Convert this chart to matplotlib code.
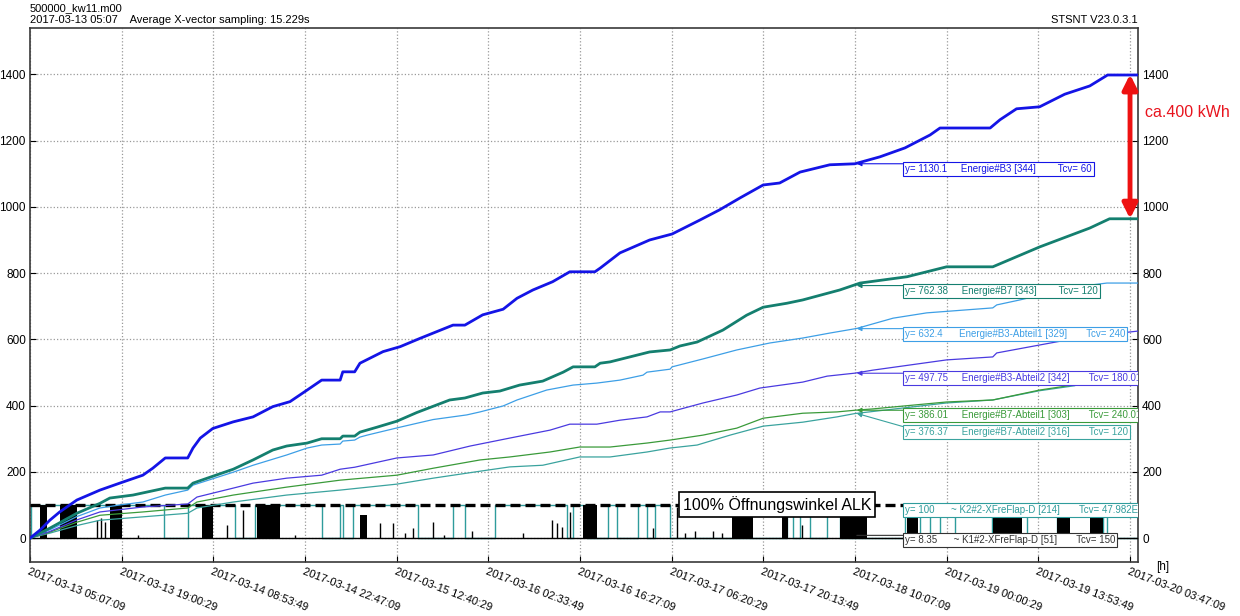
import numpy as np
import matplotlib
matplotlib.use('Agg')
import matplotlib.pyplot as plt

plt.rcParams['font.family'] = ['Liberation Sans', 'DejaVu Sans']

# time axis in hours since 2017-03-13 05:07:09, one tick every 50000 s
tick_h = [i * 50000 / 3600.0 for i in range(13)]
tick_labels = ['2017-03-13 05:07:09', '2017-03-13 19:00:29', '2017-03-14 08:53:49',
               '2017-03-14 22:47:09', '2017-03-15 12:40:29', '2017-03-16 02:33:49',
               '2017-03-16 16:27:09', '2017-03-17 06:20:29', '2017-03-17 20:13:49',
               '2017-03-18 10:07:09', '2017-03-19 00:00:29', '2017-03-19 13:53:49',
               '2017-03-20 03:47:09']

# Energie#B3
b3_t = [0, 1.5, 3.0, 4.5, 7.1, 10.6, 13.6, 17.1, 18.6, 20.5, 23.9, 24.7, 25.8, 27.7, 30.8,
        33.8, 36.8, 39.4, 42.0, 44.2, 47.0, 47.4, 49.2, 50.0, 53.5, 56.1, 59.1, 64.1, 65.9,
        68.6, 71.7, 73.8, 76.2, 79.2, 81.8, 85.6, 86.4, 89.4, 93.9, 97.3, 101.5, 104.5,
        107.6, 111.1, 113.6, 116.7, 121.2, 125.0, 128.8, 132.6, 136.4, 137.9, 145.5, 147.0,
        149.5, 153.0, 156.8, 160.6, 163.3, 167.9]
b3_v = [0, 24, 54, 79, 115, 145, 166, 190, 211, 242, 242, 272, 302, 331, 351,
        366, 397, 412, 447, 477, 477, 502, 502, 528, 563, 578, 603, 643, 643,
        674, 691, 724, 749, 774, 804, 804, 815, 861, 900, 918, 960, 991,
        1027, 1066, 1072, 1105, 1127, 1130, 1151, 1178, 1217, 1238, 1238, 1263,
        1296, 1302, 1340, 1365, 1398, 1398]

# Energie#B7
b7_t = [0, 3.0, 7.1, 10.6, 12.1, 15.6, 20.5, 23.9, 24.7, 27.3, 30.8, 33.8, 36.8, 38.9,
        42.0, 44.2, 47.0, 47.4, 49.2, 50.0, 52.6, 55.6, 58.6, 61.1, 63.6, 65.9, 68.6, 71.2,
        74.2, 77.7, 80.8, 82.3, 85.6, 86.4, 87.9, 90.9, 93.9, 97.0, 98.5, 101.1, 105.0,
        108.6, 111.1, 114.7, 117.1, 122.7, 125.8, 132.9, 138.9, 145.9, 153.0, 160.6, 163.6,
        167.9]
b7_v = [0, 30, 75, 105, 121, 130, 151, 151, 166, 184, 208, 236, 266, 278,
        287, 300, 300, 308, 308, 320, 335, 353, 379, 398, 417, 423, 438, 444,
        462, 474, 501, 517, 517, 528, 532, 547, 562, 568, 580, 592, 628,
        673, 697, 709, 719, 749, 770, 789, 819, 819, 879, 936, 964,
        964]

# Energie#B3-Abteil1
b3a1_t = [0, 3.0, 7.1, 10.6, 13.6, 17.1, 20.5, 23.9, 24.7, 30.8, 33.8, 38.9, 42.0, 44.2,
          47.0, 47.4, 49.2, 50.0, 51.1, 56.1, 61.1, 66.2, 68.2, 71.7, 73.8, 78.3, 82.3, 85.9,
          89.4, 92.9, 93.5, 97.0, 97.3, 102.0, 107.1, 112.1, 117.1, 121.2, 125.3, 130.8,
          135.9, 145.9, 146.5, 150.0, 154.5, 159.1, 163.2, 167.9]
b3a1_v = [0, 25, 65, 91, 100, 109, 130, 145, 160, 199, 220, 251, 272, 281,
          284, 293, 296, 305, 311, 335, 358, 372, 381, 399, 417, 447, 462, 468,
          477, 492, 501, 510, 517, 541, 568, 589, 604, 619, 633, 664,
          680, 695, 704, 719, 740, 760, 770, 770]

# Energie#B3-Abteil2
b3a2_t = [0, 3.0, 7.1, 10.6, 17.1, 23.9, 25.3, 30.8, 33.8, 38.9, 44.2, 47.0, 49.2, 55.6,
          61.1, 66.7, 69.7, 72.7, 78.8, 81.8, 85.9, 89.4, 93.5, 95.5, 97.0, 102.0, 107.1,
          110.6, 117.1, 120.8, 125.0, 127.7, 138.9, 145.9, 146.5, 153.0, 157.1, 162.0, 167.9]
b3a2_v = [0, 20, 55, 79, 94, 103, 124, 151, 166, 181, 190, 208, 214, 242,
          251, 278, 290, 302, 326, 344, 344, 356, 366, 381, 381, 408, 432,
          453, 471, 489, 498, 507, 538, 547, 559, 583, 598, 612, 625]

# Energie#B7-Abteil1
b7a1_t = [0, 3.0, 7.1, 10.6, 17.1, 23.9, 25.3, 30.8, 38.9, 47.0, 55.6, 61.1, 68.2, 72.7,
          78.8, 83.3, 87.9, 93.5, 97.0, 102.0, 107.1, 111.1, 117.1, 122.3, 125.0, 127.7,
          138.9, 145.9, 153.0, 158.0, 159.1]
b7a1_v = [0, 18, 48, 69, 79, 91, 109, 130, 154, 175, 190, 211, 236, 245,
          260, 275, 275, 287, 296, 311, 332, 362, 377, 381, 386, 390,
          411, 417, 447, 462, 463]

# Energie#B7-Abteil2
b7a2_t = [0, 3.0, 7.1, 10.6, 23.9, 25.3, 30.8, 38.9, 47.0, 55.6, 61.1, 68.2, 72.7, 77.7,
          83.3, 87.9, 93.5, 97.0, 101.1, 106.1, 111.1, 117.1, 122.3, 125.0, 138.9, 145.9,
          153.0, 158.3]
b7a2_v = [0, 15, 38, 54, 75, 91, 109, 130, 145, 163, 181, 202, 215, 220,
          245, 245, 260, 272, 281, 311, 338, 350, 366, 376, 408, 417,
          445, 460]

# ~K2#2-XFreFlap-D: switching instants of the 0/100 flap signal
k2_switch = [0.15, 20.3, 23.9, 31.1, 34.1, 44.2, 47.0, 47.4, 48.9, 58.8, 64.1, 65.9, 70.5,
             81.4, 82.3, 84.4, 87.6, 88.9, 92.1, 93.5, 94.7, 97.0, 114.7, 115.6, 116.7,
             118.2, 120.8, 122.7, 132.6, 134.8, 136.4, 137.9, 140.2, 145.8, 146.2, 151.1,
             155.6, 157.1, 162.6, 163.2]

# ~K1#2-XFreFlap-D: busy periods (start, end, peak) and single spikes (time, value)
k1_bursts = [(1.5, 2.6, 100), (4.5, 7.1, 100), (12.1, 13.9, 100), (26.1, 27.7, 100),
             (34.4, 37.9, 100), (50.0, 51.1, 70), (83.8, 85.9, 100), (106.4, 109.5, 95),
             (113.9, 114.9, 100), (122.7, 126.8, 100), (132.9, 134.5, 95),
             (145.9, 150.3, 100), (155.6, 157.6, 100), (160.6, 162.6, 95)]
k1_spikes_t = [10.2, 10.8, 11.4, 16.4, 29.8, 32.3, 40.2, 53.0, 55.0, 56.8, 58.0, 61.1, 62.7,
               67.0, 74.7, 79.1, 79.8, 80.6, 81.8, 94.4, 98.0, 99.2, 100.8, 103.5, 104.8,
               117.0, 150.8]
k1_spikes_v = [55, 62, 48, 10, 40, 85, 10, 45, 45, 15, 30, 50, 10,
               20, 15, 55, 45, 35, 80, 30, 95, 15, 20, 20, 15,
               40, 15]

cursor_h = 125.3
box_h = 132.6
labels = [
    (b3_t, b3_v, 1130.1, 1130.1, '#1414e6', 2.0, 'y= 1130.1     Energie#B3 [344]        Tcv= 60'),
    (b7_t, b7_v, 762.38, 762.38, '#147f6f', 2.0, 'y= 762.38     Energie#B7 [343]        Tcv= 120'),
    (b3a1_t, b3a1_v, 632.4, 632.4, '#3d9fe6', 0.9, 'y= 632.4      Energie#B3-Abteil1 [329]       Tcv= 240'),
    (b3a2_t, b3a2_v, 497.75, 497.75, '#4a3ae0', 0.9, 'y= 497.75     Energie#B3-Abteil2 [342]       Tcv= 180.01'),
    (b7a1_t, b7a1_v, 386.01, 386.01, '#3a9a3a', 0.9, 'y= 386.01     Energie#B7-Abteil1 [303]       Tcv= 240.01'),
    (b7a2_t, b7a2_v, 376.37, 335.0, '#3aa39e', 0.9, 'y= 376.37     Energie#B7-Abteil2 [316]       Tcv= 120'),
]

fig = plt.figure(figsize=(12.4, 6.16), dpi=100)
ax = fig.add_axes([0.0242, 0.0877, 0.8935, 0.8669])

# flap signals
k2_t = [0] + k2_switch + [167.9]
k2_v = [0] + [100 if i % 2 == 0 else 0 for i in range(len(k2_switch))]
k2_v = k2_v + [k2_v[-1]]
ax.step(k2_t, k2_v, where='post', color='#2f9c9c', lw=1.0, zorder=2)

ax.plot([0, 167.9], [0, 0], color='black', lw=1.0, zorder=3)
for a, b, p in k1_bursts:
    ax.fill_between([a, b], 0, p, color='black', lw=0, zorder=3)
ax.vlines(k1_spikes_t, 0, k1_spikes_v, color='black', lw=1.0, zorder=3)

ax.plot([0, 167.9], [100, 100], color='black', lw=2.4, ls=(0, (3, 1.5)), zorder=4)
ax.text(98.9, 102.7, '100% Öffnungswinkel ALK', fontsize=11.5, ha='left', va='center',
        zorder=6, bbox=dict(boxstyle='square,pad=0.25', fc='white', ec='black', lw=1.2))

# energy counters, thin ones first
for t, v, cur, top, col, lw, txt in labels[::-1]:
    ax.plot(t, v, color=col, lw=lw, zorder=5)

for t, v, cur, top, col, lw, txt in labels:
    ax.annotate(txt, xy=(cursor_h, cur), xytext=(box_h, top), textcoords='data',
                fontsize=7, color=col, ha='left', va='top', zorder=7, clip_on=True,
                bbox=dict(boxstyle='square,pad=0.2', fc='white', ec=col, lw=0.8),
                arrowprops=dict(arrowstyle='-|>', color=col, lw=0.8, mutation_scale=7,
                                relpos=(0, 1), shrinkA=0, shrinkB=0))

ax.annotate('y= 100      ~ K2#2-XFreFlap-D [214]       Tcv= 47.982E+3', xy=(cursor_h, 100),
            xytext=(box_h, 100), textcoords='data', fontsize=7, color='#2f9c9c',
            ha='left', va='top', zorder=7, clip_on=True,
            bbox=dict(boxstyle='square,pad=0.2', fc='white', ec='#2f9c9c', lw=0.8))
ax.annotate('y= 8.35      ~ K1#2-XFreFlap-D [51]       Tcv= 150', xy=(cursor_h, 8.35),
            xytext=(box_h, 8.35), textcoords='data', fontsize=7, color='#333333',
            ha='left', va='top', zorder=7, clip_on=True,
            bbox=dict(boxstyle='square,pad=0.2', fc='white', ec='#333333', lw=0.8),
            arrowprops=dict(arrowstyle='-', color='#333333', lw=0.8,
                            relpos=(0, 1), shrinkA=0, shrinkB=0))

# difference marker between the two main counters
ax.annotate('', xy=(166.7, 1400), xytext=(166.7, 964), annotation_clip=False,
            arrowprops=dict(arrowstyle='<|-|>', color='#ee1111', lw=3.5, mutation_scale=22,
                            shrinkA=0, shrinkB=0), zorder=8)
fig.text(0.923, 0.8166, 'ca.400 kWh', fontsize=11.5, color='#e8141e', ha='left', va='center')

ax.set_xlim(0, 167.9)
ax.set_ylim(-72, 1540)
ax.set_xticks(tick_h)
ax.set_xticklabels(tick_labels, rotation=-21, ha='left', va='top', rotation_mode='anchor',
                   fontsize=8.0)
ax.set_yticks(range(0, 1401, 200))
ax.tick_params(axis='y', left=True, right=True, labelleft=True, labelright=True,
               direction='in', length=4, labelsize=8.5, pad=3)
ax.tick_params(axis='x', direction='in', length=4, pad=3)
ax.grid(True, ls=':', color='#999999', lw=0.9)
ax.set_axisbelow(True)
for s in ax.spines.values():
    s.set_color('#3a3a3a')
    s.set_linewidth(1.2)

fig.text(30 / 1240, 1 - 8 / 616, '500000_kw11.m00', fontsize=8, ha='left', va='center')
fig.text(30 / 1240, 1 - 20 / 616, '2017-03-13 05:07    Average X-vector sampling: 15.229s',
         fontsize=8, ha='left', va='center')
fig.text(1138 / 1240, 1 - 20 / 616, 'STSNT V23.0.3.1', fontsize=8, ha='right', va='center')
fig.text(1163 / 1240, 1 - 567 / 616, '[h]', fontsize=8.5, ha='center', va='center')

fig.savefig('out.png', dpi=100)
